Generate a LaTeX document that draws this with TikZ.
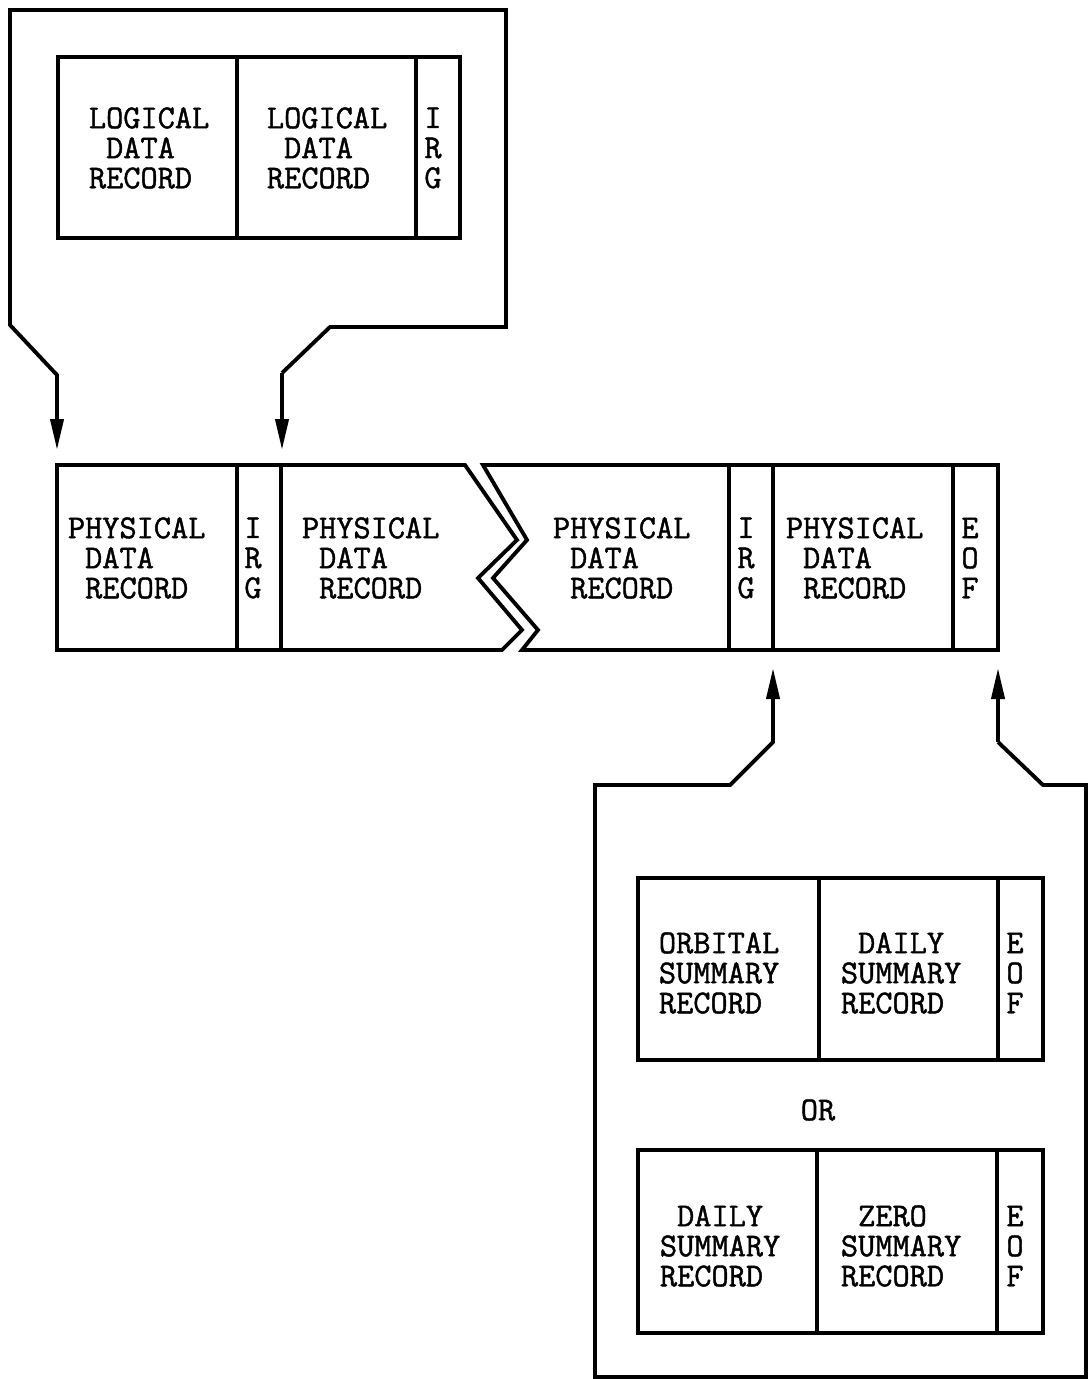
\documentclass[tikz,border=0pt]{standalone}
\usepackage{fontspec}
\newfontfamily\typefont[FakeBold=1.3]{Latin Modern Mono}
\usetikzlibrary{arrows.meta}
\begin{document}
\begin{tikzpicture}[x=0.02cm,y=-0.02cm,
  line width=2.2pt, line join=miter,
  txt/.style={font=\typefont\fontsize{19}{17.1}\selectfont, inner sep=0pt, align=left, anchor=west},
  ctxt/.style={font=\typefont\fontsize{19}{17.1}\selectfont, inner sep=0pt, align=center},
  tip/.style={-{Triangle[length=0.62cm,width=0.26cm]}}]
\useasboundingbox (0,0) rectangle (1088,1379);
\newcommand{\ind}{\hphantom{X}}

% ---------- top record block ----------
\draw (58,57) rectangle (460,238);
\draw (237,57) -- (237,238);
\draw (416,57) -- (416,238);
\node[txt] (l1) at (87,148) {LOGICAL\\\ind DATA\\RECORD};
\node[txt] (l2) at (265,148) {LOGICAL\\\ind DATA\\RECORD};
\node[ctxt] (irg0) at (433,148) {I\\R\\G};

% ---------- main strip ----------
\draw (465,465) -- (57,465) -- (57,650) -- (502,650) -- (522,630) -- (478,578) -- (517,540) -- cycle;
\draw (237,465) -- (237,650);
\draw (281,465) -- (281,650);
\draw (483,465) -- (998,465) -- (998,650) -- (522,650) -- (538,630) -- (493,578) -- (527,540) -- cycle;
\draw (729,465) -- (729,650);
\draw (773,465) -- (773,650);
\draw (953,465) -- (953,650);
\node[txt] (p1) at (66,558) {PHYSICAL\\\ind DATA\\\ind RECORD};
\node[ctxt] (irg1) at (253,558) {I\\R\\G};
\node[txt] (p2) at (300,558) {PHYSICAL\\\ind DATA\\\ind RECORD};
\node[txt] (p3) at (551,558) {PHYSICAL\\\ind DATA\\\ind RECORD};
\node[ctxt] (irg2) at (746,558) {I\\R\\G};
\node[txt] (p4) at (784,558) {PHYSICAL\\\ind DATA\\\ind RECORD};
\node[ctxt] (eof0) at (970,558) {E\\O\\F};

% ---------- top callout ----------
\coordinate (ta) at (57,450);
\coordinate (tb) at (282,450);
\draw[tip] (282,373) -- (330,327) -- (506,327) -- (506,10) -- (10,10) -- (10,325) -- (57,375) -- (ta);
\draw[tip] (282,373) -- (tb);

% ---------- bottom callout ----------
\coordinate (ba) at (773,668);
\coordinate (bb) at (998,668);
\draw[tip] (998,742) -- (1043,785) -- (1086,785) -- (1086,1377) -- (595,1377) -- (595,785) -- (730,785) -- (773,742) -- (ba);
\draw[tip] (998,742) -- (bb);

% ---------- bottom record blocks ----------
\draw (638,878) rectangle (1043,1060);
\draw (819,878) -- (819,1060);
\draw (998,878) -- (998,1060);
\node[txt] (s1) at (657,973) {ORBITAL\\SUMMARY\\RECORD};
\node[txt] (s2) at (839,973) {\ind DAILY\\SUMMARY\\RECORD};
\node[ctxt] (eof1) at (1015,973) {E\\O\\F};

\node[ctxt] (or) at (818,1110) {OR};

\draw (638,1150) rectangle (1043,1333);
\draw (817,1150) -- (817,1333);
\draw (997,1150) -- (997,1333);
\node[txt] (s3) at (658,1246) {\ind DAILY\\SUMMARY\\RECORD};
\node[txt] (s4) at (839,1246) {\ind ZERO\\SUMMARY\\RECORD};
\node[ctxt] (eof2) at (1015,1246) {E\\O\\F};
\end{tikzpicture}
\end{document}
